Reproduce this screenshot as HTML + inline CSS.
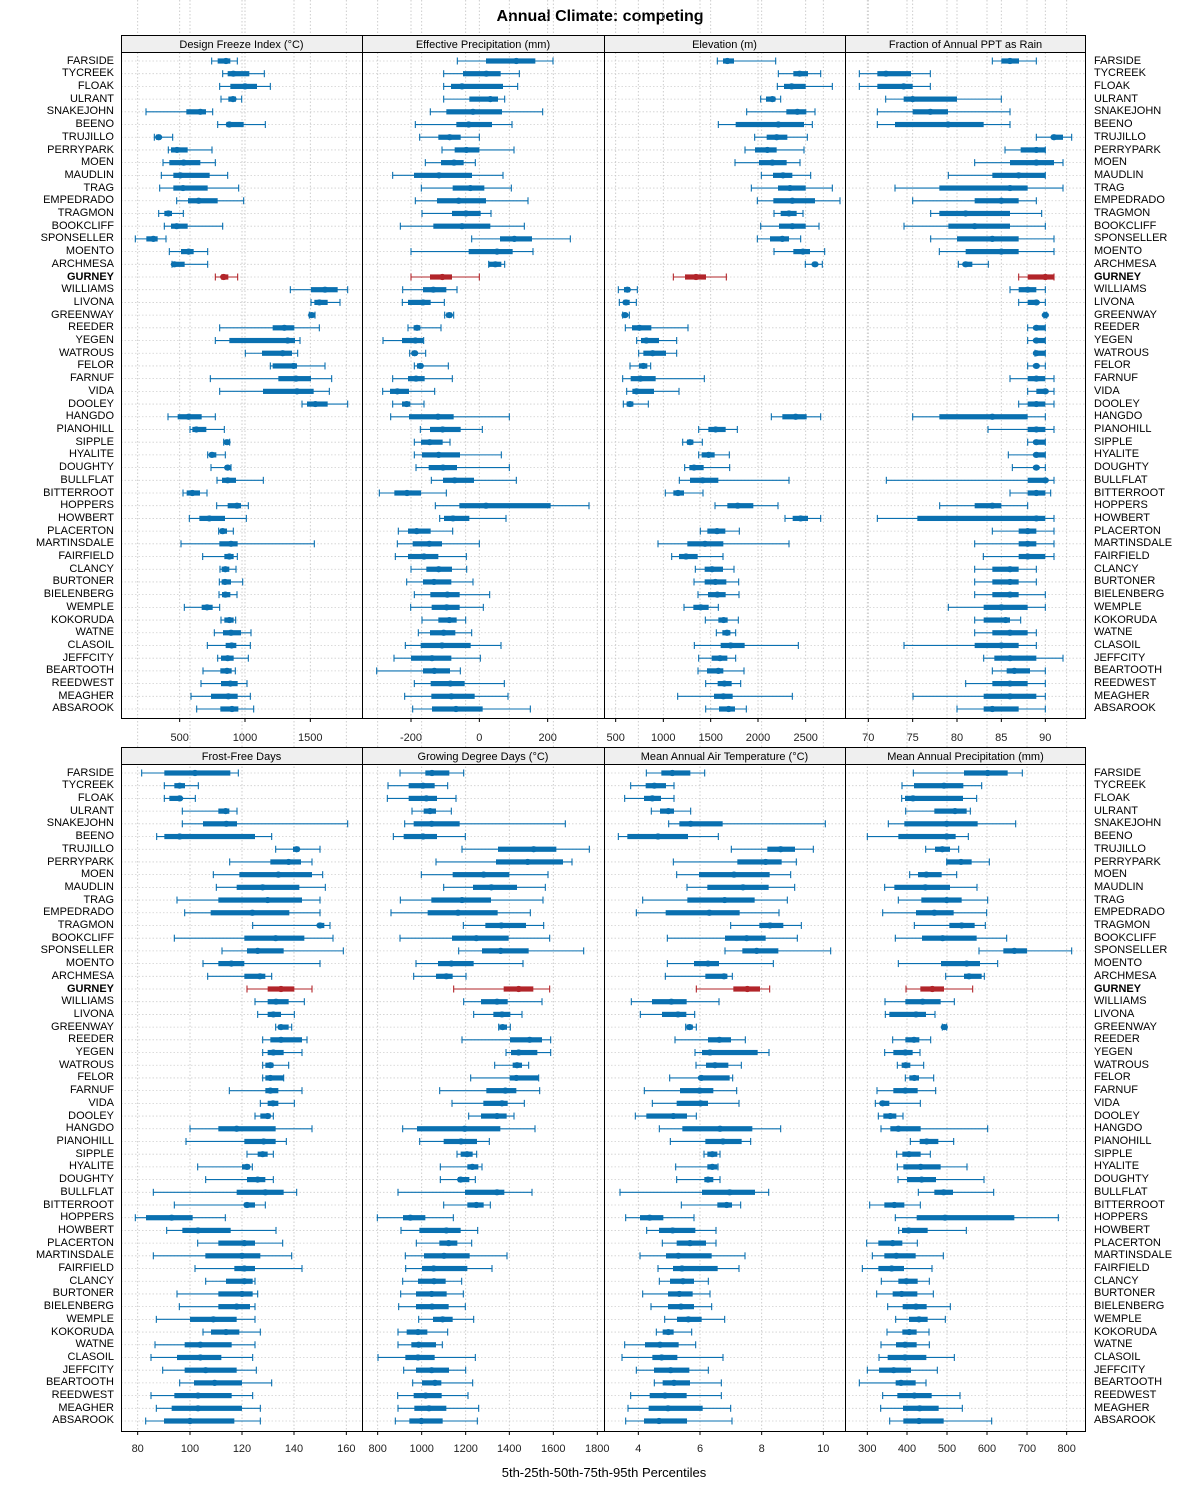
<!DOCTYPE html>
<html><head><meta charset="utf-8">
<style>
html,body{margin:0;padding:0;background:#fff;}
body{width:1200px;height:1500px;position:relative;overflow:hidden;font-family:"Liberation Sans",Arial,sans-serif;color:#000;}
.names{position:absolute;font-size:11px;}
.names div{height:12.706px;line-height:12.706px;white-space:nowrap;}
.L{left:0;width:114px;text-align:right;}
.R{left:1094px;text-align:left;}
.t1{top:54.6px;}
.t2{top:766.6px;}
.b{font-weight:bold;}
svg{position:absolute;left:0;top:0;}
</style></head><body>
<svg id="s" width="1200" height="1500" xmlns="http://www.w3.org/2000/svg" font-family="Liberation Sans, Arial, sans-serif">
<text x="600" y="21" text-anchor="middle" font-size="16" font-weight="bold">Annual Climate: competing</text>
<g id="grid"></g>
<g id="bars"></g>
<g fill="none" stroke="#000" stroke-width="1">
<rect x="121.5" y="35.5" width="964" height="683" />
<rect x="121.5" y="35.5" width="964" height="17" fill="#efefef"/>
<line x1="362.5" y1="35" x2="362.5" y2="718"/><line x1="604.5" y1="35" x2="604.5" y2="718"/><line x1="845.5" y1="35" x2="845.5" y2="718"/>
<rect x="121.5" y="747.5" width="964" height="684" />
<rect x="121.5" y="747.5" width="964" height="17" fill="#efefef"/>
<line x1="362.5" y1="747" x2="362.5" y2="1431"/><line x1="604.5" y1="747" x2="604.5" y2="1431"/><line x1="845.5" y1="747" x2="845.5" y2="1431"/>
</g>
<g font-size="11" text-anchor="middle" fill="#000">
<text x="241.5" y="48">Design Freeze Index (°C)</text>
<text x="483" y="48">Effective Precipitation (mm)</text>
<text x="724.5" y="48">Elevation (m)</text>
<text x="965.5" y="48">Fraction of Annual PPT as Rain</text>
<text x="241.5" y="760">Frost-Free Days</text>
<text x="483" y="760">Growing Degree Days (°C)</text>
<text x="724.5" y="760">Mean Annual Air Temperature (°C)</text>
<text x="965.5" y="760">Mean Annual Precipitation (mm)</text>
</g>
<g font-size="11" text-anchor="middle" fill="#222">
<text x="179.7" y="741">500</text><text x="245" y="741">1000</text><text x="310.3" y="741">1500</text>
<text x="411" y="741">-200</text><text x="479.3" y="741">0</text><text x="547.7" y="741">200</text>
<text x="615.7" y="741">500</text><text x="663.3" y="741">1000</text><text x="710.7" y="741">1500</text><text x="758" y="741">2000</text><text x="805.7" y="741">2500</text>
<text x="868.3" y="741">70</text><text x="912.7" y="741">75</text><text x="957" y="741">80</text><text x="1001.3" y="741">85</text><text x="1045.3" y="741">90</text>
<text x="137.7" y="1452">80</text><text x="190" y="1452">100</text><text x="242" y="1452">120</text><text x="294" y="1452">140</text><text x="346.3" y="1452">160</text>
<text x="377.7" y="1452">800</text><text x="421.7" y="1452">1000</text><text x="465.7" y="1452">1200</text><text x="509.3" y="1452">1400</text><text x="553.3" y="1452">1600</text><text x="597.3" y="1452">1800</text>
<text x="638.3" y="1452">4</text><text x="700" y="1452">6</text><text x="761.7" y="1452">8</text><text x="823.3" y="1452">10</text>
<text x="867.3" y="1452">300</text><text x="907" y="1452">400</text><text x="947" y="1452">500</text><text x="987" y="1452">600</text><text x="1027" y="1452">700</text><text x="1066.7" y="1452">800</text>
</g>
<text x="604" y="1477" text-anchor="middle" font-size="13">5th-25th-50th-75th-95th Percentiles</text>
</svg>

<div class="names L t1"><div>FARSIDE</div><div>TYCREEK</div><div>FLOAK</div><div>ULRANT</div><div>SNAKEJOHN</div><div>BEENO</div><div>TRUJILLO</div><div>PERRYPARK</div><div>MOEN</div><div>MAUDLIN</div><div>TRAG</div><div>EMPEDRADO</div><div>TRAGMON</div><div>BOOKCLIFF</div><div>SPONSELLER</div><div>MOENTO</div><div>ARCHMESA</div><div class="b">GURNEY</div><div>WILLIAMS</div><div>LIVONA</div><div>GREENWAY</div><div>REEDER</div><div>YEGEN</div><div>WATROUS</div><div>FELOR</div><div>FARNUF</div><div>VIDA</div><div>DOOLEY</div><div>HANGDO</div><div>PIANOHILL</div><div>SIPPLE</div><div>HYALITE</div><div>DOUGHTY</div><div>BULLFLAT</div><div>BITTERROOT</div><div>HOPPERS</div><div>HOWBERT</div><div>PLACERTON</div><div>MARTINSDALE</div><div>FAIRFIELD</div><div>CLANCY</div><div>BURTONER</div><div>BIELENBERG</div><div>WEMPLE</div><div>KOKORUDA</div><div>WATNE</div><div>CLASOIL</div><div>JEFFCITY</div><div>BEARTOOTH</div><div>REEDWEST</div><div>MEAGHER</div><div>ABSAROOK</div></div>
<div class="names R t1"><div>FARSIDE</div><div>TYCREEK</div><div>FLOAK</div><div>ULRANT</div><div>SNAKEJOHN</div><div>BEENO</div><div>TRUJILLO</div><div>PERRYPARK</div><div>MOEN</div><div>MAUDLIN</div><div>TRAG</div><div>EMPEDRADO</div><div>TRAGMON</div><div>BOOKCLIFF</div><div>SPONSELLER</div><div>MOENTO</div><div>ARCHMESA</div><div class="b">GURNEY</div><div>WILLIAMS</div><div>LIVONA</div><div>GREENWAY</div><div>REEDER</div><div>YEGEN</div><div>WATROUS</div><div>FELOR</div><div>FARNUF</div><div>VIDA</div><div>DOOLEY</div><div>HANGDO</div><div>PIANOHILL</div><div>SIPPLE</div><div>HYALITE</div><div>DOUGHTY</div><div>BULLFLAT</div><div>BITTERROOT</div><div>HOPPERS</div><div>HOWBERT</div><div>PLACERTON</div><div>MARTINSDALE</div><div>FAIRFIELD</div><div>CLANCY</div><div>BURTONER</div><div>BIELENBERG</div><div>WEMPLE</div><div>KOKORUDA</div><div>WATNE</div><div>CLASOIL</div><div>JEFFCITY</div><div>BEARTOOTH</div><div>REEDWEST</div><div>MEAGHER</div><div>ABSAROOK</div></div>
<div class="names L t2"><div>FARSIDE</div><div>TYCREEK</div><div>FLOAK</div><div>ULRANT</div><div>SNAKEJOHN</div><div>BEENO</div><div>TRUJILLO</div><div>PERRYPARK</div><div>MOEN</div><div>MAUDLIN</div><div>TRAG</div><div>EMPEDRADO</div><div>TRAGMON</div><div>BOOKCLIFF</div><div>SPONSELLER</div><div>MOENTO</div><div>ARCHMESA</div><div class="b">GURNEY</div><div>WILLIAMS</div><div>LIVONA</div><div>GREENWAY</div><div>REEDER</div><div>YEGEN</div><div>WATROUS</div><div>FELOR</div><div>FARNUF</div><div>VIDA</div><div>DOOLEY</div><div>HANGDO</div><div>PIANOHILL</div><div>SIPPLE</div><div>HYALITE</div><div>DOUGHTY</div><div>BULLFLAT</div><div>BITTERROOT</div><div>HOPPERS</div><div>HOWBERT</div><div>PLACERTON</div><div>MARTINSDALE</div><div>FAIRFIELD</div><div>CLANCY</div><div>BURTONER</div><div>BIELENBERG</div><div>WEMPLE</div><div>KOKORUDA</div><div>WATNE</div><div>CLASOIL</div><div>JEFFCITY</div><div>BEARTOOTH</div><div>REEDWEST</div><div>MEAGHER</div><div>ABSAROOK</div></div>
<div class="names R t2"><div>FARSIDE</div><div>TYCREEK</div><div>FLOAK</div><div>ULRANT</div><div>SNAKEJOHN</div><div>BEENO</div><div>TRUJILLO</div><div>PERRYPARK</div><div>MOEN</div><div>MAUDLIN</div><div>TRAG</div><div>EMPEDRADO</div><div>TRAGMON</div><div>BOOKCLIFF</div><div>SPONSELLER</div><div>MOENTO</div><div>ARCHMESA</div><div class="b">GURNEY</div><div>WILLIAMS</div><div>LIVONA</div><div>GREENWAY</div><div>REEDER</div><div>YEGEN</div><div>WATROUS</div><div>FELOR</div><div>FARNUF</div><div>VIDA</div><div>DOOLEY</div><div>HANGDO</div><div>PIANOHILL</div><div>SIPPLE</div><div>HYALITE</div><div>DOUGHTY</div><div>BULLFLAT</div><div>BITTERROOT</div><div>HOPPERS</div><div>HOWBERT</div><div>PLACERTON</div><div>MARTINSDALE</div><div>FAIRFIELD</div><div>CLANCY</div><div>BURTONER</div><div>BIELENBERG</div><div>WEMPLE</div><div>KOKORUDA</div><div>WATNE</div><div>CLASOIL</div><div>JEFFCITY</div><div>BEARTOOTH</div><div>REEDWEST</div><div>MEAGHER</div><div>ABSAROOK</div></div>

<script>
var D=[
[[272,290,315,328,349],[305,320,337,385,430],[296,328,372,408,448],[300,322,336,345,362],[75,196,238,255,275],[290,316,325,368,433],[100,105,113,120,155],[142,150,168,200,273],[126,145,188,238,283],[121,157,178,266,320],[116,157,186,260,353],[167,201,233,290,368],[113,130,142,153,187],[130,150,167,200,305],[43,76,97,110,135],[145,180,203,218,260],[153,155,160,191,260],[283,300,308,322,350],[508,570,612,650,680],[570,580,595,620,657],[565,566,572,580,582],[296,455,490,520,595],[283,325,500,522,537],[373,423,485,513,530],[448,455,518,528,612],[268,472,525,570,632],[296,426,528,578,625],[543,558,583,620,680],[141,170,203,242,283],[207,214,226,256,310],[308,312,318,325,326],[260,266,273,286,313],[270,313,320,325,330],[288,303,320,345,427],[186,197,214,237,258],[287,320,348,360,382],[205,235,265,312,376],[293,297,305,318,337],[180,295,330,350,580],[245,310,325,338,349],[297,302,313,325,345],[295,302,312,330,365],[294,303,313,328,348],[190,242,258,275,296],[300,310,325,338,344],[280,306,330,360,390],[259,314,332,346,388],[290,300,320,338,382],[246,298,318,332,343],[240,300,328,350,378],[210,270,322,350,388],[227,298,333,352,398]],
[[286,372,463,520,573],[245,303,373,416,472],[245,267,300,423,467],[245,322,385,408,428],[205,253,333,420,542],[160,283,320,390,450],[173,229,263,296,352],[240,278,313,352,456],[190,237,276,305,340],[92,156,231,330,423],[178,272,325,367,448],[160,225,290,372,498],[180,270,312,356,387],[115,214,300,385,487],[329,414,457,510,625],[147,320,405,452,513],[380,380,400,418,428],[147,204,241,270,352],[122,183,214,253,285],[121,138,183,206,247],[248,253,262,270,275],[138,155,165,175,237],[63,120,160,184,185],[143,150,158,165,191],[157,165,175,183,259],[92,138,162,188,271],[62,84,106,141,218],[92,120,134,145,186],[86,141,228,275,442],[175,204,242,296,361],[157,177,203,242,264],[157,180,230,294,418],[162,200,243,285,442],[208,243,278,336,463],[52,97,135,177,253],[220,292,372,566,681],[233,246,273,322,432],[109,138,164,206,272],[106,152,202,240,352],[100,138,186,229,313],[147,193,230,270,314],[134,183,216,268,333],[157,205,256,293,383],[146,209,254,293,364],[180,229,262,284,311],[169,204,245,280,329],[130,176,240,326,417],[96,147,210,268,355],[44,183,217,264,295],[157,206,265,308,427],[128,208,268,338,438],[152,210,282,362,505]],
[[340,357,370,390,515],[523,568,587,612,650],[520,540,563,605,685],[470,486,505,514,530],[428,547,580,607,633],[343,395,523,600,625],[452,488,518,550,610],[423,453,490,518,600],[393,465,505,548,588],[472,507,537,565,620],[442,522,558,605,685],[460,508,565,633,708],[510,530,555,578,597],[470,525,565,605,645],[460,498,535,555,590],[510,568,597,618,662],[604,626,633,640,655],[208,243,276,306,367],[43,60,70,78,100],[46,58,66,77,97],[56,58,63,68,76],[64,84,106,142,252],[98,111,127,165,218],[104,118,146,186,218],[78,105,118,130,140],[56,80,109,155,301],[68,85,98,150,225],[58,68,78,88,133],[502,535,575,608,650],[284,313,335,365,400],[236,249,258,268,295],[284,293,314,332,376],[242,256,270,299,377],[226,258,296,343,555],[184,208,222,240,297],[333,370,401,448,522],[543,566,590,612,650],[289,310,339,364,406],[162,250,303,358,555],[203,225,246,281,357],[274,302,324,357,390],[270,302,334,367,404],[282,312,340,365,405],[240,268,290,314,343],[304,343,359,371,403],[337,355,369,379,395],[271,350,380,422,583],[284,323,348,370,395],[282,309,343,358,420],[305,341,361,383,410],[221,330,358,386,565],[305,345,374,393,427]],
[[442,469,495,522,574],[43,97,123,198,256],[43,97,176,203,256],[122,176,203,336,469],[97,203,256,309,495],[97,150,309,416,495],[574,620,627,654,680],[480,527,574,601,601],[389,495,574,627,654],[310,442,521,601,601],[150,283,495,548,654],[203,389,469,521,574],[257,283,362,495,590],[177,310,389,495,601],[257,336,442,521,627],[283,362,469,521,627],[340,356,362,382,430],[521,548,601,627,627],[495,521,548,574,601],[521,548,574,578,601],[597,598,601,603,605],[548,570,574,601,601],[548,570,574,601,601],[570,570,574,601,601],[548,570,574,580,601],[495,548,574,601,627],[548,574,601,601,627],[521,548,574,601,627],[203,283,442,548,601],[429,548,574,601,627],[548,568,574,601,601],[490,568,574,601,601],[502,568,574,578,601],[124,548,601,605,627],[495,548,574,601,617],[284,389,442,469,548],[97,217,574,601,627],[442,521,548,574,627],[389,521,548,574,627],[415,521,548,601,627],[389,442,495,521,574],[389,442,495,521,574],[389,442,495,521,601],[310,416,469,548,601],[389,416,482,495,527],[389,442,495,548,574],[177,389,469,521,574],[416,448,495,574,654],[442,485,508,555,601],[362,442,495,548,601],[204,416,495,574,601],[336,416,442,521,601]],
[[62,130,222,328,352],[130,160,176,192,232],[130,145,176,183,223],[184,292,314,325,348],[184,246,316,348,680],[107,130,176,402,452],[464,516,527,535,597],[326,448,503,540,573],[277,355,472,573,605],[286,347,425,535,613],[168,292,440,543,597],[191,269,394,505,597],[395,590,597,610,627],[160,370,464,550,636],[303,378,410,488,667],[246,292,331,370,597],[260,370,417,433,452],[378,440,480,520,573],[402,440,465,503,550],[410,440,457,480,520],[464,472,480,503,512],[425,448,480,543,558],[425,440,457,488,543],[425,433,448,457,503],[425,433,448,488,488],[325,433,448,472,543],[418,440,456,472,520],[402,418,440,448,457],[207,292,347,464,573],[195,370,428,464,496],[378,410,425,440,457],[230,363,378,386,394],[254,378,410,433,457],[97,347,433,488,527],[160,370,378,402,433],[43,75,152,215,313],[137,184,231,329,465],[230,292,370,402,485],[97,253,363,418,512],[222,340,370,402,543],[254,315,370,395,402],[168,292,363,395,410],[175,292,347,387,402],[106,207,277,347,402],[246,270,315,355,418],[102,191,238,332,402],[90,168,238,301,395],[125,191,254,347,406],[176,219,281,363,452],[90,160,231,332,395],[106,152,231,363,418],[74,129,207,340,418]],
[[114,190,210,262,305],[78,140,183,218,257],[76,140,193,225,282],[150,185,204,222,268],[128,155,209,293,610],[94,125,183,225,310],[300,408,515,583,682],[222,402,497,603,630],[178,272,365,442,558],[245,333,388,465,550],[115,208,300,387,543],[87,197,288,407,505],[304,370,418,492,545],[114,270,343,440,563],[290,360,416,500,665],[162,228,268,335,483],[155,222,253,272,312],[275,425,470,514,563],[305,357,405,437,540],[335,394,420,445,480],[410,412,422,435,445],[300,444,503,540,566],[432,447,470,526,566],[398,452,465,480,500],[326,443,463,529,530],[233,373,430,463,533],[270,364,420,437,487],[320,357,405,434,456],[122,165,308,415,519],[173,245,297,345,382],[285,296,315,332,344],[235,316,331,349,360],[235,288,296,322,340],[108,309,405,427,510],[245,316,343,365,385],[46,123,145,190,274],[117,172,253,296,347],[163,232,260,286,329],[130,186,246,323,435],[131,180,215,316,390],[122,168,216,251,299],[116,162,209,254,304],[110,162,210,260,310],[170,213,242,272,335],[108,134,168,196,257],[108,148,170,222,241],[48,130,168,218,340],[125,162,209,261,311],[152,180,219,238,332],[107,155,191,239,318],[108,157,201,253,350],[100,142,178,242,346]],
[[127,172,205,259,302],[80,125,151,186,210],[62,120,145,171,210],[142,168,193,210,260],[194,226,260,356,664],[43,70,162,252,343],[382,490,530,573,628],[208,400,485,533,577],[218,285,390,497,560],[249,310,417,494,572],[116,250,362,452,550],[97,185,316,407,525],[380,466,498,538,592],[190,363,428,485,580],[363,415,458,523,680],[190,270,312,345,508],[184,304,360,370,385],[277,388,430,468,497],[82,144,202,248,345],[109,174,222,247,272],[245,248,257,266,277],[213,312,346,381,424],[273,294,318,461,495],[276,306,333,373,412],[197,287,292,377,386],[121,228,287,328,398],[145,218,290,312,405],[94,127,208,249,277],[166,235,348,445,530],[199,304,357,413,440],[300,310,325,340,348],[215,310,325,340,342],[218,301,312,328,348],[48,294,377,453,494],[232,340,368,384,410],[65,108,137,178,270],[128,165,206,274,336],[175,218,258,306,336],[108,186,223,323,423],[162,207,234,341,405],[166,198,237,270,313],[116,192,226,266,318],[141,192,231,270,323],[182,219,253,293,362],[157,176,193,209,263],[62,123,168,224,275],[54,145,173,220,357],[97,150,200,256,313],[151,176,210,258,352],[80,137,183,248,352],[72,134,192,296,380],[65,120,165,249,384]],
[[205,357,428,488,532],[171,207,297,355,410],[170,180,204,354,395],[182,268,330,365,376],[130,178,305,398,512],[67,160,305,332,370],[242,270,292,315,341],[305,305,348,380,433],[194,219,244,290,335],[119,148,241,315,396],[160,229,305,350,428],[113,213,268,326,425],[208,313,350,389,421],[151,231,293,395,485],[402,475,508,546,680],[160,288,365,405,458],[302,357,372,410,418],[183,226,262,297,383],[120,181,233,287,328],[121,133,213,243,270],[292,293,298,303,305],[143,181,207,223,257],[119,145,181,203,225],[157,170,182,196,236],[181,193,208,222,266],[96,145,181,218,272],[91,106,113,133,226],[100,115,136,154,174],[108,136,160,227,428],[196,224,245,280,326],[155,172,192,227,256],[157,175,227,287,366],[159,186,230,273,417],[220,268,296,324,446],[74,118,148,178,226],[151,215,300,508,640],[161,171,191,248,364],[65,100,143,172,217],[82,118,154,212,295],[52,100,140,177,261],[109,160,184,218,253],[95,143,170,217,265],[128,173,213,245,316],[152,192,222,248,301],[126,172,193,215,252],[108,153,180,215,253],[102,128,180,244,328],[67,102,146,198,277],[43,152,168,212,243],[113,157,208,260,345],[107,174,224,281,352],[134,175,222,296,440]]
];
var G=[[176,372,568],[147,352,557],[35,178,320,462,605],[70,203,336,469,601],[50,207,363,519,676],[47,179,311,442,574,706],[103,288,473,658],[67,186,306,426,546,665]];
var LEFT=[121,362,604,845],W=[241,242,241,241];
var NS="http://www.w3.org/2000/svg";
function el(p,t,a){var e=document.createElementNS(NS,t);for(var k in a)e.setAttribute(k,a[k]);p.appendChild(e);return e;}
var grid=document.getElementById('grid'),bars=document.getElementById('bars');
var step=12.706;
for(var k=0;k<8;k++){
 var l=LEFT[k%4],top=k<4?52:765,bot=k<4?718:1431,y0=k<4?61:773;
 for(var i=0;i<52;i++){var y=y0+i*step;el(grid,'line',{x1:l,x2:l+W[k%4],y1:y,y2:y,stroke:'#cfcfcf','stroke-width':0.8,'stroke-dasharray':'1.5,2'});}
 G[k].forEach(function(g){var x=l+g/3;el(grid,'line',{x1:x,x2:x,y1:top,y2:bot,stroke:'#c8c8c8','stroke-width':0.9,'stroke-dasharray':'1.5,2'});
  el(grid,'line',{x1:x,x2:x,y1:bot,y2:bot+4,stroke:'#000','stroke-width':1});});
 for(var i=0;i<52;i++){
  var d=D[k][i],y=y0+i*step,c=(i==17)?'#b2252a':'#0a70b0';
  var x=d.map(function(v){return l+v/3;});
  el(bars,'line',{x1:x[0],x2:x[4],y1:y,y2:y,stroke:c,'stroke-width':1.1});
  el(bars,'line',{x1:x[0],x2:x[0],y1:y-3.5,y2:y+3.5,stroke:c,'stroke-width':1.1});
  el(bars,'line',{x1:x[4],x2:x[4],y1:y-3.5,y2:y+3.5,stroke:c,'stroke-width':1.1});
  el(bars,'rect',{x:x[1],y:y-2.6,width:Math.max(x[3]-x[1],1),height:5.2,fill:c});
  el(bars,'ellipse',{cx:x[2],cy:y,rx:3.6,ry:3.1,fill:c});
 }
}
</script>
</body></html>
